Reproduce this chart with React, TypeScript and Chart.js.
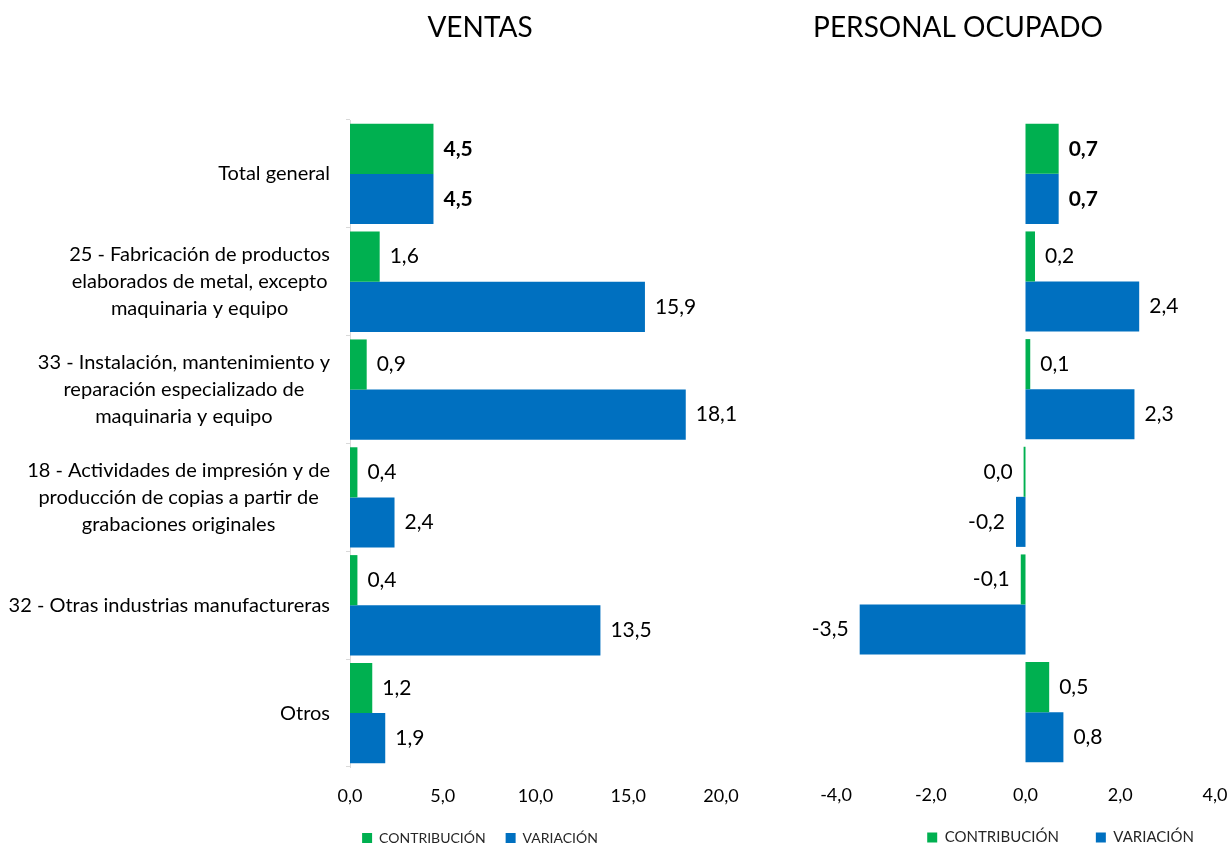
import React, { useEffect, useRef } from 'react';
import { Chart, registerables } from 'chart.js';

Chart.register(...registerables);

// ---------- data ----------
const CATEGORY_LABELS: string[][] = [
  ['Total general'],
  ['25 - Fabricación de productos', 'elaborados de metal, excepto', 'maquinaria y equipo'],
  ['33 - Instalación, mantenimiento y', 'reparación especializado de', 'maquinaria y equipo'],
  ['18 - Actividades de impresión y de', 'producción de copias a partir de', 'grabaciones originales'],
  ['32 - Otras industrias manufactureras'],
  ['Otros'],
];
const SERIES_NAMES = ['CONTRIBUCIÓN', 'VARIACIÓN'];

const VENTAS_CONTRIBUCION = [4.5, 1.6, 0.9, 0.4, 0.4, 1.2];
const VENTAS_VARIACION = [4.5, 15.9, 18.1, 2.4, 13.5, 1.9];
const PERSONAL_CONTRIBUCION = [0.7, 0.2, 0.1, -0.04, -0.1, 0.5];
const PERSONAL_VARIACION = [0.7, 2.4, 2.3, -0.2, -3.5, 0.8];

const VENTAS_AXIS = [0, 20, 5]; // min, max, step
const PERSONAL_AXIS = [-4, 4, 2];
const TITLES = ['VENTAS', 'PERSONAL OCUPADO'];

const GREEN = '#00B050';
const BLUE = '#0070C0';
const FONT = 'Lato';

function fmt(v: number): string {
  let r = Math.round(v * 10) / 10;
  if (r === 0) r = 0;
  return r.toFixed(1).replace('.', ',');
}

const valueLabelPlugin = {
  id: 'valueLabels',
  afterDatasetsDraw(chart: any) {
    const ctx = chart.ctx;
    ctx.save();
    ctx.textBaseline = 'middle';
    ctx.fillStyle = '#000';
    chart.data.datasets.forEach((ds: any, di: number) => {
      const meta = chart.getDatasetMeta(di);
      meta.data.forEach((bar: any, i: number) => {
        const v = ds.data[i] as number;
        ctx.font = `${i === 0 ? 'bold ' : ''}21px ${FONT}`;
        if (v >= 0) {
          ctx.textAlign = 'left';
          ctx.fillText(fmt(v), bar.x + 10, bar.y);
        } else {
          ctx.textAlign = 'right';
          ctx.fillText(fmt(v), bar.x - 11, bar.y);
        }
      });
    });
    ctx.restore();
  },
};

const categoryLabelPlugin = {
  id: 'categoryLabels',
  afterDraw(chart: any) {
    const ctx = chart.ctx;
    const scale = chart.scales.y;
    ctx.save();
    ctx.font = `20px ${FONT}`;
    ctx.fillStyle = '#000';
    ctx.textAlign = 'center';
    ctx.textBaseline = 'middle';
    const lineH = 27;
    CATEGORY_LABELS.forEach((lines, i) => {
      const yc = scale.getPixelForValue(i);
      const blockW = Math.max(...lines.map((l) => ctx.measureText(l).width));
      const cx = scale.right - 20 - blockW / 2;
      lines.forEach((line, k) => {
        ctx.fillText(line, cx, yc + (k - (lines.length - 1) / 2) * lineH);
      });
    });
    ctx.restore();
  },
};

interface PanelProps {
  left: number;
  width: number;
  height: number;
  title: string;
  contrib: number[];
  variacion: number[];
  axis: number[];
  leftW: number;
  rightW: number;
  xAxisH: number;
  legendPadding: number;
  legendFont: number;
  legendAlign: 'center' | 'end';
  showCategoryAxis: boolean;
}

function Panel(p: PanelProps) {
  const ref = useRef<HTMLCanvasElement | null>(null);
  useEffect(() => {
    if (!ref.current) return;
    const chart = new Chart(ref.current, {
      type: 'bar',
      data: {
        labels: CATEGORY_LABELS.map((l) => l.join(' ')),
        datasets: [
          {
            label: SERIES_NAMES[0],
            data: p.contrib,
            backgroundColor: GREEN,
            borderWidth: 0,
            categoryPercentage: 0.93,
            barPercentage: 1,
            xAxisID: 'x',
            yAxisID: 'y',
          },
          {
            label: SERIES_NAMES[1],
            data: p.variacion,
            backgroundColor: BLUE,
            borderWidth: 0,
            categoryPercentage: 0.93,
            barPercentage: 1,
            xAxisID: 'x',
            yAxisID: 'y',
          },
        ],
      },
      options: {
        indexAxis: 'y',
        responsive: false,
        animation: false,
        devicePixelRatio: 1,
        layout: { padding: 0 },
        font: { family: FONT },
        plugins: {
          title: {
            display: true,
            text: p.title,
            color: '#000',
            font: { family: FONT, size: 28, weight: 'normal' },
            padding: { top: 11, bottom: 75.4 },
          },
          legend: {
            display: true,
            position: 'bottom',
            align: p.legendAlign,
            labels: {
              boxWidth: 10,
              boxHeight: 10,
              padding: p.legendPadding,
              color: '#262626',
              font: { family: FONT, size: p.legendFont },
            },
          },
          tooltip: { enabled: false },
        },
        scales: {
          x: {
            type: 'linear',
            position: 'bottom',
            min: p.axis[0],
            max: p.axis[1],
            ticks: {
              stepSize: p.axis[2],
              color: '#000',
              font: { family: FONT, size: 18 },
              padding: 0,
              callback: (v: any) => fmt(Number(v)),
            },
            grid: { display: false, drawTicks: true, tickLength: 18 },
            border: { display: false },
            afterFit: (s: any) => {
              s.height = p.xAxisH;
              s._computeLabelArea = () => undefined;
            },
          },
          y: {
            type: 'category',
            position: 'left',
            offset: true,
            grid: {
              display: p.showCategoryAxis,
              drawOnChartArea: false,
              drawTicks: p.showCategoryAxis,
              tickLength: 4,
              color: '#d9d9d9',
              offset: true,
            },
            border: { display: p.showCategoryAxis, color: '#d9d9d9' },
            ticks: { display: false },
            afterFit: (s: any) => {
              s.width = p.leftW;
            },
          },
          yR: {
            type: 'category',
            axis: 'y',
            position: 'right',
            grid: { display: false, drawTicks: false },
            border: { display: false },
            ticks: { display: false },
            afterFit: (s: any) => {
              s.width = p.rightW;
            },
          },
        },
      } as any,
      plugins: p.showCategoryAxis ? [valueLabelPlugin, categoryLabelPlugin] : [valueLabelPlugin],
    });
    return () => chart.destroy();
  }, []);
  return (
    <div style={{ position: 'absolute', left: p.left, top: 0, width: p.width, height: p.height }}>
      <canvas
        ref={ref}
        width={p.width}
        height={p.height}
        style={{ display: 'block', width: p.width, height: p.height }}
      />
    </div>
  );
}

export default function App() {
  const H = 855;
  return (
    <div
      style={{
        position: 'absolute',
        left: 0,
        top: 0,
        width: 1231,
        height: 846,
        overflow: 'hidden',
        background: '#fff',
      }}
    >
      <Panel
        left={0}
        width={960}
        height={H}
        title={TITLES[0]}
        contrib={VENTAS_CONTRIBUCION}
        variacion={VENTAS_VARIACION}
        axis={VENTAS_AXIS}
        leftW={350}
        rightW={239}
        xAxisH={44}
        legendPadding={20}
        legendFont={14}
        legendAlign="center"
        showCategoryAxis={true}
      />
      <Panel
        left={685}
        width={546}
        height={H}
        title={TITLES[1]}
        contrib={PERSONAL_CONTRIBUCION}
        variacion={PERSONAL_VARIACION}
        axis={PERSONAL_AXIS}
        leftW={151}
        rightW={16}
        xAxisH={27}
        legendPadding={37}
        legendFont={15}
        legendAlign="end"
        showCategoryAxis={false}
      />
    </div>
  );
}
